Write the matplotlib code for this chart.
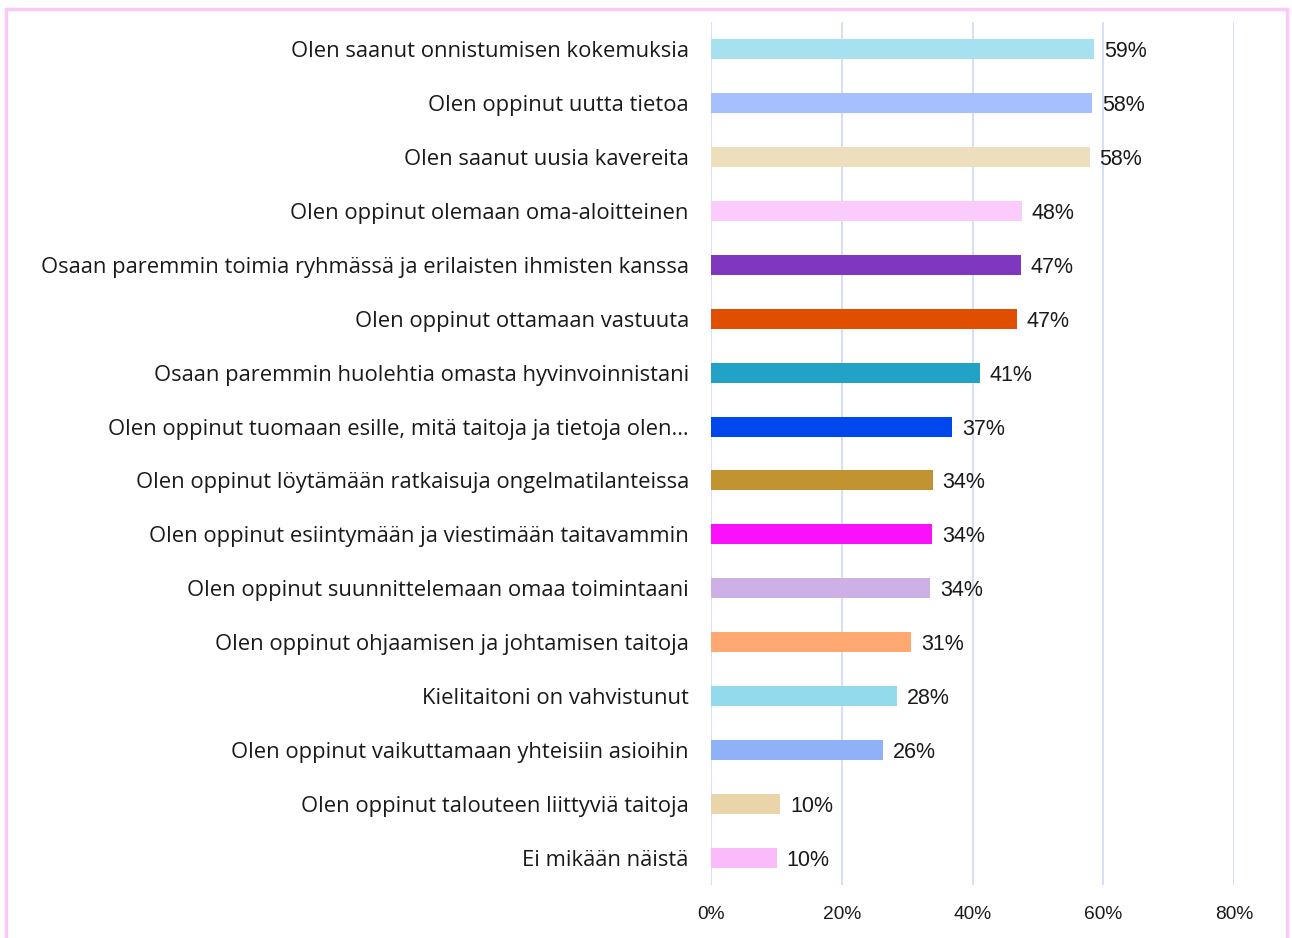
import matplotlib.pyplot as plt
from matplotlib.patches import Rectangle
from matplotlib.ticker import FuncFormatter

plt.rcParams['font.family'] = ['Open Sans', 'DejaVu Sans']
num_font = ['Liberation Sans', 'DejaVu Sans']

# --- Data ---
labels = [
    "Olen saanut onnistumisen kokemuksia",
    "Olen oppinut uutta tietoa",
    "Olen saanut uusia kavereita",
    "Olen oppinut olemaan oma-aloitteinen",
    "Osaan paremmin toimia ryhmässä ja erilaisten ihmisten kanssa",
    "Olen oppinut ottamaan vastuuta",
    "Osaan paremmin huolehtia omasta hyvinvoinnistani",
    "Olen oppinut tuomaan esille, mitä taitoja ja tietoja olen…",
    "Olen oppinut löytämään ratkaisuja ongelmatilanteissa",
    "Olen oppinut esiintymään ja viestimään taitavammin",
    "Olen oppinut suunnittelemaan omaa toimintaani",
    "Olen oppinut ohjaamisen ja johtamisen taitoja",
    "Kielitaitoni on vahvistunut",
    "Olen oppinut vaikuttamaan yhteisiin asioihin",
    "Olen oppinut talouteen liittyviä taitoja",
    "Ei mikään näistä",
]
values = [58.6, 58.3, 57.9, 47.6, 47.4, 46.8, 41.1, 36.9,
          33.9, 33.8, 33.5, 30.6, 28.4, 26.3, 10.6, 10.1]
value_labels = ["59%", "58%", "58%", "48%", "47%", "47%", "41%", "37%",
                "34%", "34%", "34%", "31%", "28%", "26%", "10%", "10%"]
colors = ["#A6E1F0", "#A5BFFF", "#EDDFBE", "#FBCBFB", "#7E37BE", "#E04E00",
          "#21A2C6", "#0048EE", "#C19432", "#FA10FA", "#CCB0E6", "#FFA872",
          "#92DAEC", "#8EB1F8", "#EAD5AA", "#FBBAF9"]
xticks = [0, 20, 40, 60, 80]

# --- Figure ---
W, H = 1292, 938
fig = plt.figure(figsize=(W / 100, H / 100), dpi=100)
ax = fig.add_axes([711 / W, 1 - 885 / H, (1234 - 711) / W, (885 - 22) / H])

ypos = list(range(len(labels)))
ax.barh(ypos, values, height=0.37, color=colors, zorder=3)

for y, v, t in zip(ypos, values, value_labels):
    ax.text(v + 1.5, y, t, va="center_baseline", ha="left", fontsize=15.5,
            color="#1a1a1a", family=num_font)

ax.set_xlim(0, 80)
ax.set_ylim(len(labels) - 0.5, -0.5)
ax.set_yticks(ypos)
ax.set_yticklabels(labels, fontsize=15.8, color="#1a1a1a")
ax.set_xticks(xticks)
ax.xaxis.set_major_formatter(FuncFormatter(lambda x, p: f"{x:.0f}%"))
for lab in ax.get_xticklabels():
    lab.set_family(num_font)
ax.tick_params(axis="x", labelsize=13.8, colors="#1a1a1a", length=0, pad=15)
ax.tick_params(axis="y", length=0, pad=16)

ax.grid(axis="x", color="#D3DBF8", linewidth=1.3, zorder=0)
for s in ax.spines.values():
    s.set_visible(False)

# pink frame around chart
fig.patches.append(Rectangle((6 / W, -0.05), (1287 - 6) / W, 1.05 - 9 / H,
                             transform=fig.transFigure, fill=False,
                             edgecolor="#FBC8FB", linewidth=2.5))

fig.savefig("out.png", dpi=100)
